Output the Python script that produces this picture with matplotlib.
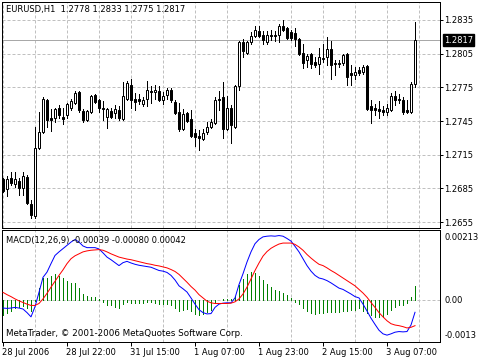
import matplotlib
matplotlib.use("Agg")
import matplotlib.pyplot as plt
import matplotlib.transforms as mtransforms

plt.rcParams['font.family'] = 'DejaVu Sans'
plt.rcParams['font.size'] = 6

# EURUSD H1 candles (one per bar, left to right)
opens = [1.2693, 1.2684, 1.2694, 1.2689, 1.2692, 1.2685, 1.2695, 1.2671, 1.2660, 1.2721,
         1.2735, 1.2764, 1.2748, 1.2748, 1.2757, 1.2749, 1.2750, 1.2757, 1.2761, 1.2771,
         1.2754, 1.2746, 1.2753, 1.2768, 1.2764, 1.2757, 1.2749, 1.2754, 1.2752, 1.2755,
         1.2747, 1.2765, 1.2777, 1.2765, 1.2765, 1.2760, 1.2765, 1.2772, 1.2771, 1.2772,
         1.2764, 1.2768, 1.2773, 1.2762, 1.2753, 1.2738, 1.2752, 1.2747, 1.2734, 1.2732,
         1.2729, 1.2735, 1.2740, 1.2743, 1.2765, 1.2766, 1.2738, 1.2757, 1.2740, 1.2776,
         1.2815, 1.2806, 1.2815, 1.2821, 1.2825, 1.2822, 1.2815, 1.2822, 1.2822, 1.2822,
         1.2830, 1.2828, 1.2824, 1.2823, 1.2818, 1.2806, 1.2799, 1.2805, 1.2798, 1.2796,
         1.2800, 1.2802, 1.2809, 1.2797, 1.2797, 1.2797, 1.2805, 1.2788, 1.2786, 1.2790,
         1.2789, 1.2794, 1.2758, 1.2757, 1.2756, 1.2755, 1.2753, 1.2755, 1.2767, 1.2765,
         1.2764, 1.2755, 1.2753, 1.2778]
highs = [1.2694, 1.2696, 1.2700, 1.2700, 1.2694, 1.2700, 1.2697, 1.2675, 1.2740, 1.2753,
         1.2766, 1.2765, 1.2756, 1.2757, 1.2759, 1.2757, 1.2761, 1.2765, 1.2772, 1.2772,
         1.2756, 1.2755, 1.2768, 1.2769, 1.2765, 1.2763, 1.2757, 1.2757, 1.2759, 1.2758,
         1.2780, 1.2781, 1.2782, 1.2770, 1.2769, 1.2766, 1.2781, 1.2776, 1.2777, 1.2776,
         1.2771, 1.2774, 1.2774, 1.2764, 1.2761, 1.2756, 1.2753, 1.2755, 1.2738, 1.2737,
         1.2738, 1.2744, 1.2747, 1.2766, 1.2772, 1.2780, 1.2767, 1.2759, 1.2777, 1.2816,
         1.2818, 1.2816, 1.2824, 1.2830, 1.2830, 1.2825, 1.2825, 1.2826, 1.2825, 1.2831,
         1.2835, 1.2829, 1.2826, 1.2828, 1.2819, 1.2814, 1.2805, 1.2806, 1.2802, 1.2810,
         1.2814, 1.2820, 1.2816, 1.2799, 1.2799, 1.2805, 1.2806, 1.2795, 1.2793, 1.2793,
         1.2795, 1.2795, 1.2764, 1.2760, 1.2763, 1.2758, 1.2760, 1.2770, 1.2772, 1.2769,
         1.2766, 1.2764, 1.2780, 1.2833]
lows = [1.2682, 1.2678, 1.2688, 1.2686, 1.2679, 1.2679, 1.2671, 1.2659, 1.2659, 1.2720,
        1.2734, 1.2740, 1.2736, 1.2744, 1.2748, 1.2742, 1.2748, 1.2755, 1.2760, 1.2753,
        1.2744, 1.2745, 1.2752, 1.2761, 1.2753, 1.2746, 1.2739, 1.2748, 1.2748, 1.2746,
        1.2746, 1.2764, 1.2757, 1.2755, 1.2760, 1.2758, 1.2758, 1.2761, 1.2765, 1.2763,
        1.2760, 1.2765, 1.2762, 1.2751, 1.2736, 1.2737, 1.2744, 1.2731, 1.2723, 1.2719,
        1.2728, 1.2733, 1.2739, 1.2742, 1.2755, 1.2730, 1.2737, 1.2725, 1.2739, 1.2773,
        1.2802, 1.2805, 1.2814, 1.2820, 1.2820, 1.2814, 1.2814, 1.2817, 1.2816, 1.2815,
        1.2825, 1.2818, 1.2817, 1.2812, 1.2804, 1.2792, 1.2793, 1.2792, 1.2793, 1.2787,
        1.2798, 1.2795, 1.2782, 1.2786, 1.2793, 1.2795, 1.2777, 1.2777, 1.2782, 1.2786,
        1.2787, 1.2755, 1.2743, 1.2750, 1.2748, 1.2750, 1.2750, 1.2754, 1.2759, 1.2761,
        1.2751, 1.2752, 1.2752, 1.2775]
closes = [1.2683, 1.2693, 1.2690, 1.2693, 1.2685, 1.2696, 1.2672, 1.2661, 1.2721, 1.2735,
          1.2765, 1.2746, 1.2746, 1.2756, 1.2750, 1.2747, 1.2760, 1.2763, 1.2770, 1.2755,
          1.2746, 1.2754, 1.2767, 1.2762, 1.2757, 1.2756, 1.2756, 1.2749, 1.2756, 1.2748,
          1.2767, 1.2779, 1.2764, 1.2762, 1.2763, 1.2764, 1.2773, 1.2771, 1.2773, 1.2764,
          1.2767, 1.2773, 1.2764, 1.2752, 1.2738, 1.2751, 1.2745, 1.2732, 1.2731, 1.2730,
          1.2734, 1.2740, 1.2744, 1.2764, 1.2764, 1.2738, 1.2757, 1.2741, 1.2776, 1.2815,
          1.2807, 1.2815, 1.2821, 1.2826, 1.2821, 1.2817, 1.2822, 1.2821, 1.2821, 1.2830,
          1.2826, 1.2819, 1.2819, 1.2818, 1.2805, 1.2797, 1.2803, 1.2796, 1.2795, 1.2802,
          1.2801, 1.2809, 1.2795, 1.2796, 1.2796, 1.2804, 1.2784, 1.2786, 1.2789, 1.2788,
          1.2793, 1.2756, 1.2755, 1.2755, 1.2754, 1.2753, 1.2757, 1.2767, 1.2764, 1.2764,
          1.2753, 1.2753, 1.2778, 1.2817]

# MACD(12,26,9) values in units of 0.00001
macd_main = [-26, -27, -26, -24, -26, -29, -40, -53, -22, 22,
             68, 84, 110, 135, 146, 156, 166, 176, 184, 176,
             164, 159, 159, 159, 155, 143, 130, 122, 113, 104,
             113, 117, 112, 108, 105, 103, 101, 99, 94, 89,
             87, 83, 74, 60, 42, 33, 23, 5, -14, -31,
             -40, -44, -43, -24, -14, -11, -10, -10, 5, 46,
             79, 115, 146, 171, 184, 192, 194, 195, 194, 196,
             194, 187, 179, 163, 146, 125, 104, 87, 74, 66,
             63, 58, 51, 43, 35, 31, 24, 17, 9, 5,
             -14, -35, -57, -76, -94, -105, -109, -105, -100, -98,
             -99, -98, -78, -39]
macd_signal = [22, 15, 9, 2, -4, -9, -14, -18, -18, -12,
               2, 19, 38, 56, 74, 91, 110, 125, 134, 140,
               146, 149, 151, 152, 153, 151, 146, 140, 135, 130,
               127, 124, 122, 119, 116, 113, 110, 108, 105, 103,
               100, 97, 92, 86, 77, 65, 53, 40, 29, 15,
               5, -5, -10, -12, -12, -12, -12, -11, -7, 2,
               17, 38, 63, 89, 112, 133, 147, 157, 164, 170,
               173, 173, 173, 169, 161, 151, 138, 127, 117, 108,
               104, 97, 89, 82, 74, 66, 58, 50, 42, 31,
               20, 7, -9, -24, -40, -53, -65, -74, -78, -80,
               -83, -87, -85, -80]
macd_hist = [-48, -42, -35, -26, -22, -20, -26, -35, -4, 34,
             66, 65, 72, 79, 72, 65, 56, 51, 50, 36,
             18, 10, 8, 7, 2, -8, -16, -18, -22, -26,
             -14, -7, -10, -11, -11, -10, -9, -9, -11, -14,
             -13, -14, -18, -26, -35, -32, -30, -35, -43, -46,
             -45, -39, -33, -12, -2, 1, 2, 1, 12, 44,
             62, 77, 83, 82, 72, 59, 47, 38, 30, 26,
             21, 14, 6, -6, -15, -26, -34, -40, -43, -42,
             -41, -39, -38, -39, -39, -35, -34, -33, -33, -26,
             -34, -42, -48, -52, -54, -52, -44, -31, -22, -18,
             -16, -11, 7, 42]

price_ticks = [1.2655, 1.2685, 1.2715, 1.2745, 1.2775, 1.2805, 1.2835]
time_ticks = [0, 16, 32, 48, 64, 80, 96]
time_labels = ['28 Jul 2006', '28 Jul 22:00', '31 Jul 15:00', '1 Aug 07:00',
               '1 Aug 23:00', '2 Aug 15:00', '3 Aug 07:00']
title_main = 'EURUSD,H1  1.2778 1.2833 1.2775 1.2817'
title_macd = 'MACD(12,26,9) -0.00039 -0.00080 0.00042'
copyright_txt = 'MetaTrader, \u00a9 2001-2006 MetaQuotes Software Corp.'

W, H = 480.0, 360.0
px = 0.72  # one pixel in points at dpi 100
grid_kw = dict(color='#c0c0c0', linewidth=px, linestyle=(0, (3, 2)))

fig = plt.figure(figsize=(4.8, 3.6), dpi=100)
fig.patch.set_facecolor('white')

# panel boxes in pixels: left 2, right 440; main 2..228, macd 230..342
ax = fig.add_axes([2 / W, 1 - 228 / H, 438 / W, 226 / H])
ax2 = fig.add_axes([2 / W, 1 - 342 / H, 438 / W, 112 / H])

n = len(closes)
xs = list(range(n))
xlim = (-0.25, 109.25)

# ---- candles ----
ax.vlines(xs, lows, highs, color='black', linewidth=px, zorder=3, antialiased=False)
body_lo = [min(o, c) for o, c in zip(opens, closes)]
body_h = [max(abs(c - o), 0.000012) for o, c in zip(opens, closes)]
face = ['white' if c > o else 'black' for o, c in zip(opens, closes)]
ax.bar(xs, body_h, bottom=body_lo, width=0.5, color=face, edgecolor='black',
       linewidth=px, zorder=4)

ax.set_xlim(*xlim)
ax.set_ylim(1.26497, 1.28510)
ax.set_xticks(range(0, 105, 8))
ax.tick_params(axis='x', length=0, labelbottom=False)
ax.set_yticks(price_ticks)
ax.set_yticklabels(['%.4f' % p for p in price_ticks])
ax.yaxis.tick_right()
ax.tick_params(axis='y', length=2.2, width=px, pad=1, labelsize=6)
ax.grid(True, **grid_kw)
ax.set_axisbelow(True)
ax.axhline(closes[-1], color='#a8a8a8', linewidth=px, zorder=2)
for s in ax.spines.values():
    s.set_linewidth(px)

blend = mtransforms.blended_transform_factory(ax.transAxes, ax.transData)
ax.text(1.009, closes[-1], '%.4f' % closes[-1], transform=blend, color='white',
        fontsize=6, va='center', ha='left',
        bbox=dict(boxstyle='square,pad=0.15', fc='black', ec='black'))
fig.text(6 / W, 1 - 9.5 / H, title_main, fontsize=6, va='center', ha='left')

# ---- MACD ----
sc = 0.00001
ax2.vlines(xs, 0, [h * sc for h in macd_hist], color='#008000', linewidth=px,
           zorder=3, antialiased=False)
ax2.plot(xs, [m * sc for m in macd_main], color='#0000ff', linewidth=px, zorder=4)
ax2.plot(xs, [s * sc for s in macd_signal], color='#ff0000', linewidth=px, zorder=4)
ax2.axhline(0, **grid_kw, zorder=1)
ax2.set_xlim(*xlim)
ax2.set_ylim(-0.0013, 0.00213)
ax2.set_xticks(range(0, 105, 8), minor=True)
ax2.set_xticks(time_ticks)
ax2.set_xticklabels(time_labels)
ax2.tick_params(axis='x', which='major', length=3, width=px, pad=1, labelsize=6)
ax2.tick_params(axis='x', which='minor', length=0)
ax2.grid(True, which='minor', axis='x', **grid_kw)
ax2.set_axisbelow(True)
for lbl in ax2.get_xticklabels():
    lbl.set_horizontalalignment('left')
    lbl.set_transform(lbl.get_transform() + mtransforms.ScaledTranslation(-0.015, 0, fig.dpi_scale_trans))

ax2.yaxis.tick_right()
ax2.set_yticks([-0.0013, 0.0, 0.00213])
ax2.set_yticklabels(['-0.0013', '0.00', '0.00213'])
ax2.tick_params(axis='y', length=0, pad=3, labelsize=6)
ylbls = ax2.get_yticklabels()
ylbls[0].set_transform(ylbls[0].get_transform() + mtransforms.ScaledTranslation(0, 0.07, fig.dpi_scale_trans))
ylbls[2].set_transform(ylbls[2].get_transform() + mtransforms.ScaledTranslation(0, -0.07, fig.dpi_scale_trans))
for s in ax2.spines.values():
    s.set_linewidth(px)

fig.text(6 / W, 1 - 240 / H, title_macd, fontsize=6, va='center', ha='left')
fig.text(6 / W, 1 - 334 / H, copyright_txt, fontsize=6.35, va='center', ha='left')

fig.savefig('out.png', dpi=100)
